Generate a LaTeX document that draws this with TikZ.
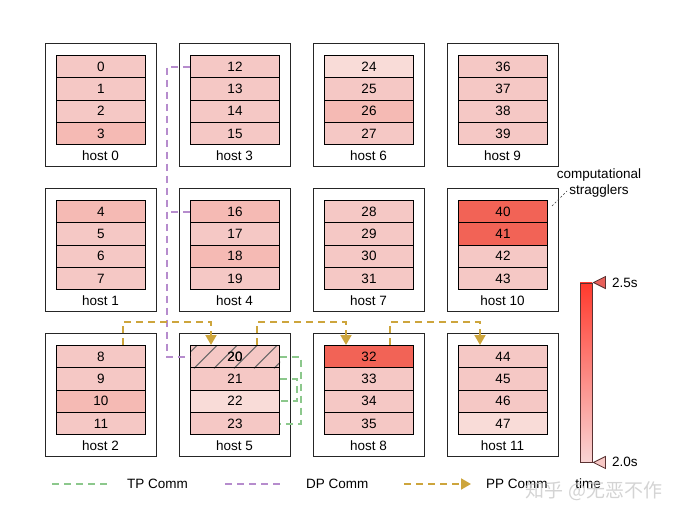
\documentclass[tikz,border=0pt]{standalone}
\usepackage{fontspec}
\setmainfont{Liberation Sans}
\newfontfamily\cjkfont{Noto Sans CJK SC}
\usetikzlibrary{arrows.meta,calc}
\definecolor{cellN}{RGB}{245,200,197}
\definecolor{cellD}{RGB}{245,186,180}
\definecolor{cellL}{RGB}{249,220,216}
\definecolor{cellR}{RGB}{242,99,86}
\definecolor{tpgreen}{RGB}{140,200,140}
\definecolor{dppurple}{RGB}{182,140,205}
\definecolor{ppgold}{RGB}{205,165,60}
\definecolor{barTop}{RGB}{255,58,45}
\definecolor{barBot}{RGB}{249,212,212}
\definecolor{barEdge}{RGB}{90,50,50}
\definecolor{triTop}{RGB}{232,96,90}
\definecolor{triBot}{RGB}{247,200,197}
\begin{document}
\begin{tikzpicture}[x=1pt,y=-1pt,font=\fontsize{13.5}{16}\selectfont,
  hostbox/.style={draw=black!85,line width=0.9pt,minimum width=111pt,minimum height=123pt,inner sep=0pt,anchor=north west},
  cellbox/.style={draw=black,line width=1pt,minimum width=89pt,minimum height=22.3pt,inner sep=0pt,anchor=north west},
  tpline/.style={draw=tpgreen,line width=1.9pt,dash pattern=on 7pt off 5pt},
  dpline/.style={draw=dppurple,line width=1.9pt,dash pattern=on 7pt off 5pt},
  ppline/.style={draw=ppgold,line width=1.9pt,dash pattern=on 7pt off 5pt,-{Triangle[length=10pt,width=11pt,fill=ppgold]}},
  legtext/.style={anchor=west,inner sep=0pt},
  tri/.style={draw=barEdge,line width=0.8pt}]
\useasboundingbox (0,0) rectangle (685,521);
% host boxes
\foreach \h in {0,...,11}{
  \pgfmathtruncatemacro{\col}{int(\h/3)}
  \pgfmathtruncatemacro{\row}{mod(\h,3)}
  \pgfmathsetmacro{\L}{45+134*\col}
  \pgfmathsetmacro{\T}{43+145*\row}
  \node[hostbox] (h\h) at (\L,\T) {};
  \node (hl\h) at (\L+55.5,\T+112.5) {host \h};
}
% cells
\foreach \n/\cc in {0/cellN,1/cellN,2/cellN,3/cellD,
  4/cellD,5/cellN,6/cellN,7/cellN,
  8/cellN,9/cellN,10/cellD,11/cellN,
  12/cellN,13/cellN,14/cellN,15/cellN,
  16/cellD,17/cellN,18/cellD,19/cellN,
  20/cellN,21/cellN,22/cellL,23/cellN,
  24/cellL,25/cellN,26/cellD,27/cellN,
  28/cellN,29/cellN,30/cellN,31/cellN,
  32/cellR,33/cellN,34/cellN,35/cellN,
  36/cellN,37/cellN,38/cellN,39/cellN,
  40/cellR,41/cellR,42/cellN,43/cellN,
  44/cellN,45/cellN,46/cellN,47/cellL}{
  \pgfmathtruncatemacro{\h}{int(\n/4)}
  \pgfmathtruncatemacro{\k}{mod(\n,4)}
  \pgfmathtruncatemacro{\col}{int(\h/3)}
  \pgfmathtruncatemacro{\row}{mod(\h,3)}
  \pgfmathsetmacro{\X}{56+134*\col}
  \pgfmathsetmacro{\Y}{55+145*\row+22.3*\k}
  \node[cellbox,fill=\cc] (c\n) at (\X,\Y) {\n};
}
% hatching of cell 20
\begin{scope}
  \clip (c20.north west) rectangle (c20.south east);
  \foreach \i in {-2,...,5}
    \draw[black!60,line width=1pt] ($(c20.south west)+(\i*20+4,0)$) -- ++(24,-24);
\end{scope}
\node[cellbox,fill=none] (c20b) at (c20.north west) {20};
% DP comm
\draw[dpline] (c12.west) -- ($(c12.west)+(-23,0)$) coordinate (dpt) |- (c20.west);
\draw[dpline] (c16.west) -- (c16.west -| dpt);
% TP comm
\draw[tpline] (c20.east) -- ++(21,0) |- (c23.east);
\draw[tpline] (c21.east) -- ++(17,0) |- (c22.east);
% PP comm
\draw[ppline] ($(c8.north west)+(67,0)$) -- ++(0,-23) -| ($(c20.north west)+(21,0)$);
\draw[ppline] ($(c20.north west)+(67,0)$) -- ++(0,-23) -| ($(c32.north west)+(22,0)$);
\draw[ppline] ($(c32.north west)+(66,0)$) -- ++(0,-23) -| ($(c44.north west)+(22,0)$);
% stragglers
\node[align=center,inner sep=0pt] (strag) at (599,183) {computational\\stragglers};
\coordinate (sgA) at ($(c40.north east)+(4,6)$);
\coordinate (sgB) at (567,191);
\draw[black!80,line width=0.6pt,dash pattern=on 2pt off 2pt] (sgA) -- (sgB);
% colour bar
\node[draw=barEdge,line width=0.9pt,minimum width=12pt,minimum height=179pt,inner sep=0pt,
  top color=barTop,bottom color=barBot] (bar) at (586,372.5) {};
\draw[tri,fill=triTop] ($(bar.north east)+(1,0)$) -- ++(12,-6) -- ++(0,12) -- cycle;
\draw[tri,fill=triBot] ($(bar.south east)+(1,0)$) -- ++(12,-6) -- ++(0,12) -- cycle;
\node[legtext] (t25) at (612,283) {2.5s};
\node[legtext] (t20) at (612,462) {2.0s};
% legend
\coordinate (ltpA) at (52,484); \coordinate (ltpB) at (110,484);
\draw[tpline] (ltpA) -- (ltpB);
\node[legtext] (ltp) at (127,484) {TP Comm};
\coordinate (ldpA) at (225,484); \coordinate (ldpB) at (283,484);
\draw[dpline] (ldpA) -- (ldpB);
\node[legtext] (ldp) at (306,484) {DP Comm};
\coordinate (lppA) at (404,484); \coordinate (lppB) at (471,484);
\draw[ppline] (lppA) -- (lppB);
\node[legtext] (lpp) at (486,484) {PP Comm};
\node (ltime) at (588,484) {time};
% watermark
\node[text=gray!40,opacity=0.85,font=\fontsize{19}{22}\selectfont\cjkfont] (wm) at (594,491) {知乎 @无恶不作};
\end{tikzpicture}
\end{document}
